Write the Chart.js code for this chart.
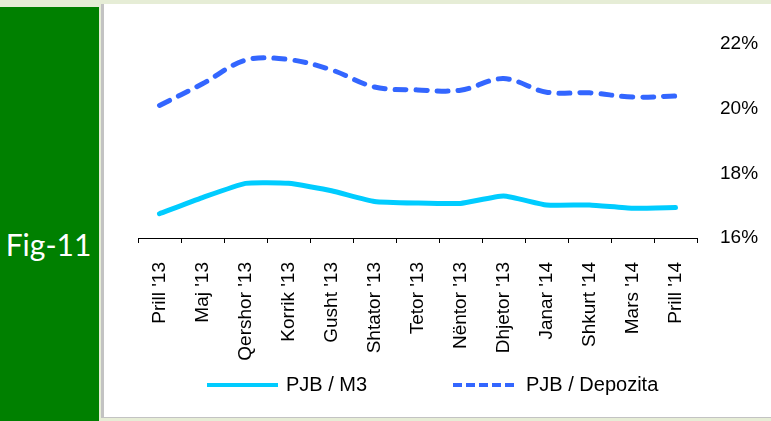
<!DOCTYPE html>
<html>
<head>
<meta charset="utf-8">
<script src="https://cdn.jsdelivr.net/npm/chart.js@4"></script>
<style>
  html, body { margin: 0; padding: 0; }
  body { width: 771px; height: 421px; background: #e6edd6; position: relative; overflow: hidden; }
  #side { position: absolute; left: 0; top: 7px; width: 99px; height: 414px; background: #008000; }
  #side span { position: absolute; left: 0; width: 97px; top: 219px; text-align: center;
    font-family: Lato, "Open Sans", sans-serif; font-size: 30px; color: #fff; }
  #panel { position: absolute; left: 101px; top: 4px; width: 670px; height: 414px; background: #fff;
    border-left: 3px solid #c3c3c3; border-bottom: 1px solid #c3c3c3; box-sizing: border-box; }
  #wrap { position: absolute; left: 104px; top: 4px; width: 667px; height: 414px; }
</style>
</head>
<body>
<div id="side"><span>Fig-11</span></div>
<div id="panel"></div>
<div id="wrap"><canvas id="myChart"></canvas></div>
<script>
window.onload = () => {
  const months = ["Prill '13", "Maj '13", "Qershor '13", "Korrik '13", "Gusht '13", "Shtator '13", "Tetor '13",
    "Nëntor '13", "Dhjetor '13", "Janar '14", "Shkurt '14", "Mars '14", "Prill '14"];
  const pjbM3 = [16.75, 17.25, 17.69, 17.69, 17.46, 17.13, 17.08, 17.07, 17.30, 17.02, 17.02, 16.92, 16.94];
  const pjbDepozita = [20.10, 20.77, 21.50, 21.52, 21.20, 20.67, 20.58, 20.57, 20.93, 20.51, 20.49, 20.36, 20.39];
  const yTicks = [16, 18, 20, 22];

  const font = { family: '"Liberation Sans", Arial, sans-serif', size: 19 };

  // legend drawn by hand so the spacing can follow the picture
  const legendLines = {
    id: 'legendLines',
    afterDraw(chart) {
      const ctx = chart.ctx;
      const items = [
        { ds: chart.data.datasets[0], x0: 103, x1: 174, dash: [] },
        { ds: chart.data.datasets[1], x0: 349, x1: 414, dash: [9, 4] }
      ];
      const y = 381;
      ctx.save();
      items.forEach(it => {
        ctx.beginPath();
        ctx.setLineDash(it.dash);
        ctx.lineCap = 'butt';
        ctx.lineWidth = 4;
        ctx.strokeStyle = it.ds.borderColor;
        ctx.moveTo(it.x0, y);
        ctx.lineTo(it.x1, y);
        ctx.stroke();
        ctx.setLineDash([]);
        ctx.fillStyle = '#000';
        ctx.font = '20px ' + font.family;
        ctx.textBaseline = 'middle';
        ctx.fillText(it.ds.label, it.x1 + 8, y);
      });
      ctx.restore();
    }
  };

  const data = {
    labels: months,
    datasets: [{
      label: 'PJB / M3',
      data: pjbM3,
      borderColor: '#00ccff',
      borderWidth: 5,
      tension: 0.15,
      pointRadius: 0,
      borderCapStyle: 'round',
      borderJoinStyle: 'round'
    }, {
      label: 'PJB / Depozita',
      data: pjbDepozita,
      borderColor: '#3366ff',
      borderWidth: 5,
      borderDash: [11, 10],
      borderCapStyle: 'round',
      tension: 0.35,
      pointRadius: 0
    }]
  };

  const config = {
    type: 'line',
    data: data,
    plugins: [legendLines],
    options: {
      responsive: true,
      maintainAspectRatio: false,
      animation: false,
      layout: { padding: { top: 40, left: 34, right: 0, bottom: 50 } },
      plugins: { legend: { display: false }, tooltip: { enabled: false } },
      scales: {
        x: {
          offset: true,
          grid: { display: true, drawOnChartArea: false, offset: true, tickLength: 5, color: '#000', lineWidth: 1 },
          border: { display: true, color: '#000', width: 1 },
          ticks: { color: '#000', font: font, minRotation: 90, maxRotation: 90, autoSkip: false, padding: 19 },
          afterFit: s => { s.height = 130; }
        },
        y: {
          position: 'right',
          min: 16,
          max: 22,
          afterBuildTicks: s => { s.ticks = yTicks.map(v => ({ value: v })); },
          grid: { display: false },
          border: { display: false },
          ticks: { color: '#000', font: font, padding: 15, callback: v => v + '%' },
          afterFit: s => { s.width = 74; }
        }
      }
    }
  };

  new Chart(document.getElementById('myChart'), config);
};
</script>
</body>
</html>
